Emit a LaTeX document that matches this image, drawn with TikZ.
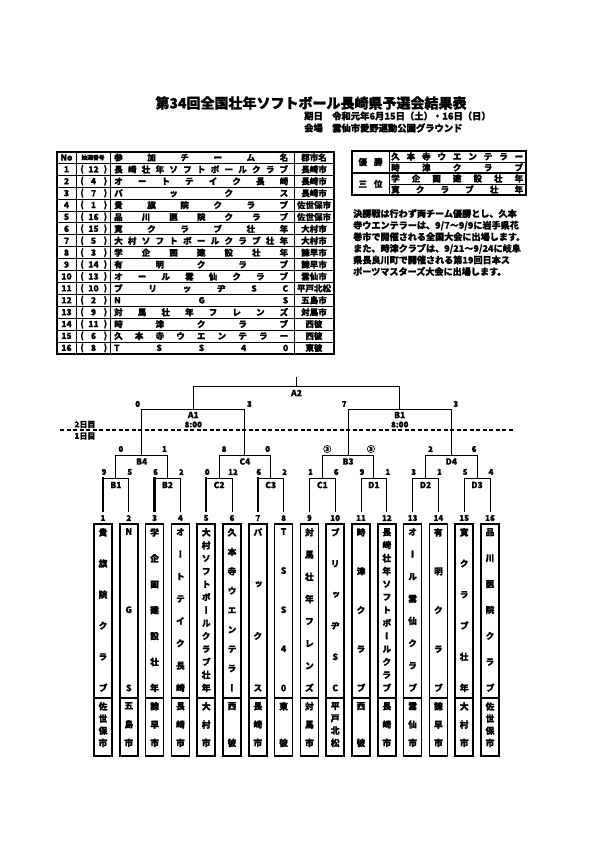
\documentclass[tikz,border=0pt]{standalone}
\usepackage{fontspec}
\setmainfont{Noto Sans CJK JP}[BoldFeatures={FakeBold=1.2}]
\newfontfamily\jpv{Noto Sans CJK JP}[RawFeature=+vert, BoldFeatures={FakeBold=1.2}]
\def\hsp#1{\ifx#1\relax\else #1\expandafter\hspB\fi}
\def\hspB#1{\ifx#1\relax\else\hfill #1\expandafter\hspB\fi}
\def\vsp#1{\ifx#1\relax\else\hbox to 10pt{\hss#1\hss}\expandafter\vspB\fi}
\def\vspB#1{\ifx#1\relax\else\vfill\hbox to 10pt{\hss#1\hss}\expandafter\vspB\fi}
\begin{document}
\begin{tikzpicture}[x=1pt,y=-1pt,
  txt/.style={inner sep=0, font=\bfseries\fontsize{8.5}{9}\selectfont},
  sml/.style={inner sep=0, font=\bfseries\fontsize{8}{9}\selectfont},
  vtxt/.style={inner sep=0, font=\jpv\bfseries\fontsize{8.8}{9}\selectfont},
  thinl/.style={line width=0.8pt},
  thickl/.style={line width=1.6pt},
  br/.style={line width=1pt},
  win/.style={line width=2.4pt}]
\useasboundingbox (0,0) rectangle (595,842);
\fill[white] (0,0) rectangle (595,842);

% title
\node[inner sep=0, font=\bfseries\fontsize{14}{16}\selectfont] (title) at (311,103) {第34回全国壮年ソフトボール長崎県予選会結果表};
\node[txt, anchor=west, font=\bfseries\fontsize{9.3}{10}\selectfont] (kijitsu) at (304,116) {期日};
\node[txt, anchor=west, font=\bfseries\fontsize{9.3}{10}\selectfont] (date) at (332,116) {令和元年6月15日（土）・16日（日）};
\node[txt, anchor=west, font=\bfseries\fontsize{9.3}{10}\selectfont] (kaijo) at (304,128) {会場};
\node[txt, anchor=west, font=\bfseries\fontsize{9.3}{10}\selectfont] (venue) at (332,128) {雲仙市愛野運動公園グラウンド};

% table
\draw[thickl] (57,152) rectangle (334,354);
\foreach \xx in {76,110,294} \draw[thinl] (\xx,152) -- (\xx,354);
\foreach \r in {1,...,16} \draw[thinl] (57,{151.5+11.9*\r}) -- (334,{151.5+11.9*\r});
\node[txt] (hno) at (66.5,157.5) {No};
\node[inner sep=0, font=\bfseries\fontsize{5.8}{6}\selectfont] (hlot) at (93,157.5) {抽選番号};
\node[txt, anchor=west] (hteam) at (114,157.5) {\hbox to 174pt{\hsp 参加チーム名\relax}};
\node[txt] (hcity) at (314,157.5) {郡市名};
\foreach \n/\d/\t/\c in {1/12/長崎壮年ソフトボールクラブ/長崎市, 2/4/オートテイク長崎/長崎市, 3/7/パックス/長崎市, 4/1/貴旗院クラブ/佐世保市, 5/16/品川医院クラブ/佐世保市, 6/15/寛クラブ壮年/大村市, 7/5/大村ソフトボールクラブ壮年/大村市, 8/3/学企画建設壮年/諫早市, 9/14/有明クラブ/諫早市, 10/13/オール雲仙クラブ/雲仙市, 11/10/ブリッヂSC/平戸北松, 12/2/NGS/五島市, 13/9/対馬壮年フレンズ/対馬市, 14/11/時津クラブ/西彼, 15/6/久本寺ウエンテラー/西彼, 16/8/TSS40/東彼} {
  \pgfmathsetmacro\yy{151.5+11.9*\n+5.95}
  \node[txt] (no\n) at (66.5,\yy) {\n};
  \node[txt] (lp\n) at (82,\yy) {(};
  \node[txt] (lot\n) at (93.5,\yy) {\d};
  \node[txt] (rp\n) at (105.5,\yy) {)};
  \node[txt, anchor=west] (tm\n) at (114,\yy) {\hbox to 174pt{\expandafter\hsp\t\relax}};
  \node[txt] (cty\n) at (314,\yy) {\c};
}

% result box
\draw[thickl] (352,151) rectangle (526,195);
\draw[thickl] (352,173) -- (526,173);
\draw[thinl] (389,151) -- (389,195);
\draw[thinl] (389,162) -- (526,162);
\draw[thinl] (389,184) -- (526,184);
\node[txt] (yusho) at (370.5,162) {\hbox to 24pt{\hsp 優勝\relax}};
\node[txt] (sani) at (370.5,184) {\hbox to 24pt{\hsp 三位\relax}};
\node[txt, anchor=west] (r1) at (391,156.5) {\hbox to 132pt{\hsp 久本寺ウエンテラー\relax}};
\node[txt, anchor=west] (r2) at (391,167.5) {\hbox to 132pt{\hsp 時津クラブ\relax}};
\node[txt, anchor=west] (r3) at (391,178.5) {\hbox to 132pt{\hsp 学企画建設壮年\relax}};
\node[txt, anchor=west] (r4) at (391,189.5) {\hbox to 132pt{\hsp 寛クラブ壮年\relax}};

% paragraph
\node[anchor=north west, inner sep=0, align=left, font=\bfseries\fontsize{9.1}{11.6}\selectfont] (para) at (353,209) {決勝戦は行わず両チーム優勝とし、久本\\寺ウエンテラーは、9/7～9/9に岩手県花\\巻市で開催される全国大会に出場します。\\また、時津クラブは、9/21～9/24に岐阜\\県長良川町で開催される第19回日本ス\\ポーツマスターズ大会に出場します。};

% day divider
\draw[line width=1.4pt, dash pattern=on 4pt off 2.5pt] (60,430) -- (514,430);
\node[sml] (d2) at (85,424.5) {2日目};
\node[sml] (d1) at (85,436) {1日目};

% teams
\foreach \i/\nm/\ct in {1/貴旗院クラブ/佐世保市, 2/NGS/五島市, 3/学企画建設壮年/諫早市, 4/オートテイク長崎/長崎市, 5/大村ソフトボールクラブ壮年/大村市, 6/久本寺ウエンテラー/西彼, 7/パックス/長崎市, 8/TSS40/東彼, 9/対馬壮年フレンズ/対馬市, 10/ブリッヂSC/平戸北松, 11/時津クラブ/西彼, 12/長崎壮年ソフトボールクラブ/長崎市, 13/オール雲仙クラブ/雲仙市, 14/有明クラブ/諫早市, 15/寛クラブ壮年/大村市, 16/品川医院クラブ/佐世保市} {
  \pgfmathsetmacro\xx{103+25.8*(\i-1)}
  \node[sml] (n\i) at (\xx,518) {\i};
  \draw[thickl] (\xx-9,524) rectangle (\xx+9,756);
  \draw[thickl] (\xx-9,698) -- (\xx+9,698);
  \node[vtxt, anchor=north] (nm\i) at (\xx,528) {\vbox to 163pt{\expandafter\vsp\nm\relax}};
  \node[vtxt, anchor=north] (ct\i) at (\xx,702) {\vbox to 44pt{\expandafter\vsp\ct\relax}};
}

% round 1
\foreach \k/\lb in {1/B1,2/B2,3/C2,4/C3,5/C1,6/D1,7/D2,8/D3} {
  \pgfmathsetmacro\xl{103+25.8*(2*\k-2)}
  \pgfmathsetmacro\xr{103+25.8*(2*\k-1)}
  \pgfmathsetmacro\xm{103+25.8*(2*\k-1.5)}
  \draw[br] (\xl,512) -- (\xl,478) -- (\xr,478) -- (\xr,512);
  \node[txt] (ma\k) at (\xm,485) {\lb};
}
\foreach \i in {1,3,5,7} {
  \pgfmathsetmacro\xx{103+25.8*(\i-1)}
  \draw[win] (\xx,512) -- (\xx,477);
}
\foreach \i/\s in {1/9,2/5,3/6,4/2,5/0,6/12,7/6,8/2,9/1,10/6,11/9,12/1,13/3,14/1,15/5,16/4} {
  \pgfmathsetmacro\xx{103+25.8*(\i-1)+1}
  \node[sml] (s\i) at (\xx,472) {\s};
}

% round 2
\foreach \j/\lb/\sl/\sr in {1/B4/0/1,2/C4/8/0,3/B3/③/③,4/D4/2/6} {
  \pgfmathsetmacro\xl{103+25.8*(4*\j-3.5)}
  \pgfmathsetmacro\xr{103+25.8*(4*\j-1.5)}
  \pgfmathsetmacro\xm{103+25.8*(4*\j-2.5)}
  \draw[br] (\xl,478) -- (\xl,455) -- (\xr,455) -- (\xr,478);
  \node[txt] (mb\j) at (\xm,461.5) {\lb};
  \node[sml] (sbl\j) at (\xl+5,449) {\sl};
  \node[sml] (sbr\j) at (\xr-3,449) {\sr};
}

% semifinals
\foreach \s/\lb/\sl/\sr in {1/A1/0/3,2/B1/7/3} {
  \pgfmathsetmacro\xl{103+25.8*(8*\s-6.5)}
  \pgfmathsetmacro\xr{103+25.8*(8*\s-2.5)}
  \pgfmathsetmacro\xm{103+25.8*(8*\s-4.5)}
  \draw[br] (\xl,455) -- (\xl,409) -- (\xr,409) -- (\xr,455);
  \node[txt] (mc\s) at (\xm,415) {\lb};
  \node[sml] (tm\s) at (\xm,424.5) {8:00};
  \node[sml] (scl\s) at (\xl-4,404) {\sl};
  \node[sml] (scr\s) at (\xr+4.5,404) {\sr};
}

% final
\draw[br] (193.3,409) -- (193.3,386) -- (399.7,386) -- (399.7,409);
\draw[br] (296.5,386) -- (296.5,377);
\node[txt] (fin) at (296.5,393) {A2};
\end{tikzpicture}
\end{document}
